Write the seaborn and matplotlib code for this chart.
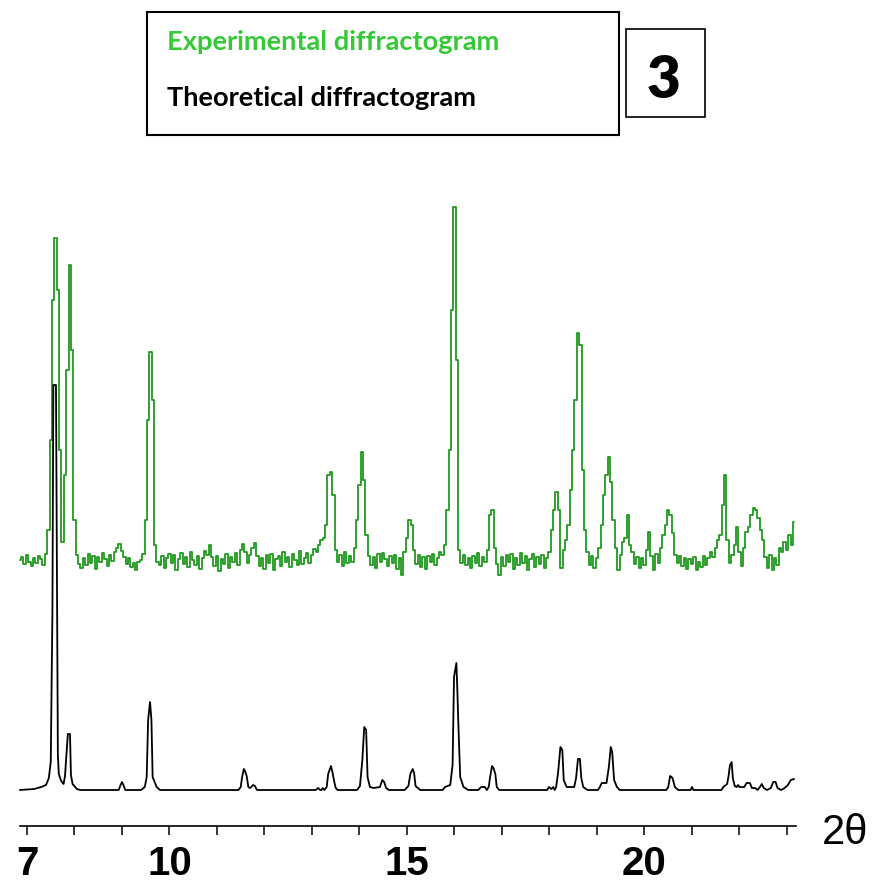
import numpy as np
import pandas as pd
import matplotlib
matplotlib.use("Agg")
import matplotlib.pyplot as plt
import seaborn as sns
from matplotlib.patches import Rectangle

# Experimental step scan: first angle, step (degrees 2-theta) and counts above background
exp_start = 6.85
exp_step = 0.05
exp_counts = [
    0, 3, -4, 5, -2, -6, 2, -3, 4, 1,                 # 6.85 - 7.30
    -5, 6, 30, 120, 260, 322, 270, 110, 18, 85,       # 7.35 - 7.80
    190, 295, 210, 40, 5, -4, -8, 2, -5, 6,           # 7.85 - 8.30
    -3, 4, -9, 3, -2, 7, 1, -6, 5, -1,                # 8.35 - 8.80
    8, 12, 16, 9, 3, -4, 2, -7, -3, -10,              # 8.85 - 9.30
    -2, 0, 6, 40, 140, 208, 160, 15, -2, -5,          # 9.35 - 9.80
    4, -8, 2, 6, -3, 5, -10, 1, 7, -4,                # 9.85 - 10.30
    3, -7, 8, 0, -5, 4, -9, 2, 9, 5,                  # 10.35 - 10.80
    15, 3, -6, 4, -11, 1, -4, 6, -8, 3,               # 10.85 - 11.30
    -2, 7, -5, 10, 16, 8, -3, 5, 12, 17,              # 11.35 - 11.80
    4, -6, 2, -9, 5, -3, 6, -10, 1, 4,                # 11.85 - 12.30
    -6, 8, -2, 3, -7, 6, 0, -5, 9, -4,                # 12.35 - 12.80
    2, 7, -3, 5, 11, 8, 15, 20, 22, 35,               # 12.85 - 13.30
    85, 88, 65, 10, -2, 5, -6, 8, -3, 4,              # 13.35 - 13.80
    -2, 12, 40, 75, 108, 80, 25, 4, -5, 3,            # 13.85 - 14.30
    -8, 6, -2, 7, 1, -6, 4, -3, 5, -9,                # 14.35 - 14.80
    2, -15, 8, 22, 40, 35, 10, -4, 5, -7,             # 14.85 - 15.30
    3, -9, 4, -2, 6, -5, 2, 8, 5, 15,                 # 15.35 - 15.80
    50, 110, 250, 353, 200, 10, -3, 5, -5, 2,         # 15.85 - 16.30
    -8, 4, -3, 7, -6, 3, -2, 10, 45, 50,              # 16.35 - 16.80
    12, -4, -15, 3, -6, 5, -2, 6, -9, 2,              # 16.85 - 17.30
    -5, 7, -3, 4, -10, 1, 6, -7, 3, -4,               # 17.35 - 17.80
    5, -8, 2, 8, 30, 50, 68, 50, -8, 10,              # 17.85 - 18.30
    20, 35, 70, 110, 160, 227, 215, 90, 30, 8,        # 18.35 - 18.80
    -5, 4, -8, 2, 12, 35, 65, 85, 103, 78,            # 18.85 - 19.30
    40, 12, -10, 5, 18, 22, 45, 15, 8, -4,            # 19.35 - 19.80
    3, -8, 2, -5, 10, 28, 4, -10, 6, -3,              # 19.85 - 20.30
    12, 25, 35, 50, 45, 27, 5, -3, 4, -6,             # 20.35 - 20.80
    2, -9, 1, -4, 3, -10, -2, -7, 4, -5,              # 20.85 - 21.30
    2, 8, 3, 12, 20, 25, 55, 85, 20, -3,              # 21.35 - 21.80
    5, 15, 33, 8, -6, 12, 28, 33, 45, 52,             # 21.85 - 22.30
    50, 42, 30, 20, 3, -8, 5, -10, 2, -5,             # 22.35 - 22.80
    12, 8, 18, 10, 25, 15, 38,                        # 22.85 - 23.15
]

# Calculated pattern: profile vertices (2-theta, intensity)
theo_2theta = [
    6.85, 7.15, 7.30, 7.40, 7.46, 7.50, 7.515, 7.535, 7.555, 7.61,
    7.635, 7.65, 7.67, 7.72, 7.77, 7.80, 7.83, 7.86, 7.905, 7.925,
    7.96, 8.05, 8.12,
    8.93, 8.97, 9.00, 9.03, 9.07,
    9.40, 9.48, 9.52, 9.55, 9.59, 9.62, 9.645, 9.73, 9.80,
    11.45, 11.50, 11.525, 11.565, 11.59, 11.625, 11.66, 11.70, 11.76, 11.80, 11.84,
    13.08, 13.13, 13.17, 13.20, 13.225, 13.26, 13.31, 13.34, 13.40, 13.43,
    13.47, 13.50, 13.54,
    13.95, 14.01, 14.06, 14.10, 14.14, 14.17, 14.22, 14.30, 14.43, 14.48,
    14.52, 14.56, 14.62,
    14.95, 15.03, 15.07, 15.12, 15.15, 15.18, 15.23, 15.28,
    15.75, 15.80, 15.91, 15.96, 15.99, 16.04, 16.06, 16.08, 16.12, 16.19,
    16.29,
    16.50, 16.56, 16.64, 16.68, 16.72, 16.75, 16.79, 16.82, 16.86, 16.89,
    16.94,
    17.95, 17.99, 18.04, 18.08, 18.11, 18.14, 18.18, 18.23, 18.27, 18.30,
    18.36, 18.42, 18.52, 18.56, 18.60, 18.64, 18.67, 18.71, 18.80,
    19.02, 19.06, 19.10, 19.20, 19.25, 19.29, 19.32, 19.36, 19.42, 19.48,
    20.46, 20.50, 20.54, 20.59, 20.64, 20.71,
    20.97, 21.00, 21.03,
    21.62, 21.66, 21.74, 21.77, 21.80, 21.835, 21.86, 21.90, 21.94, 21.97,
    22.00, 22.10, 22.15, 22.22, 22.26, 22.33, 22.38, 22.43, 22.47, 22.51,
    22.58, 22.66, 22.71, 22.76, 22.80, 22.88, 22.95, 23.02, 23.08, 23.15,
]
theo_counts = [
    0, 1, 3, 5, 12, 28, 96, 177, 405, 405,
    177, 35, 16, 9, 6, 14, 35, 56, 56, 15,
    6, 1, 0,
    0, 5, 8, 5, 0,
    0, 3, 13, 70, 88, 70, 13, 3, 0,
    0, 3, 12, 21, 19, 14, 3, 2, 5, 4, 0,
    0, 2, 0, 0, 2, 0, 3, 16, 24, 18,
    8, 2, 0,
    0, 4, 30, 63, 60, 13, 3, 2, 3, 10,
    8, 2, 0,
    0, 4, 16, 21, 17, 4, 2, 0,
    0, 3, 5, 25, 113, 127, 100, 68, 13, 3,
    0,
    0, 3, 3, 0, 3, 13, 24, 22, 16, 3,
    0,
    0, 3, 1, 3, 0, 3, 17, 43, 40, 10,
    3, 3, 3, 12, 31, 31, 12, 3, 0,
    0, 3, 7, 7, 23, 43, 38, 10, 3, 0,
    0, 3, 14, 12, 3, 0,
    0, 3, 0,
    0, 3, 6, 14, 25, 28, 12, 4, 3, 5,
    3, 3, 7, 7, 2, 2, 0, 3, 6, 2,
    0, 2, 8, 8, 2, 0, 2, 5, 10, 11,
]

tick_values = list(range(7, 24))
labelled_ticks = {7: "7", 10: "10", 15: "15", 20: "20"}

exp_offset = 230  # vertical shift of the measured pattern above the calculated one

exp_df = pd.DataFrame({
    "two_theta": exp_start + exp_step * np.arange(len(exp_counts)),
    "intensity": np.array(exp_counts, dtype=float) + exp_offset,
})
theo_df = pd.DataFrame({"two_theta": theo_2theta, "intensity": theo_counts})

sns.set_theme(style="white")
plt.rcParams["font.family"] = ["Liberation Sans", "DejaVu Sans"]
plt.rcParams["text.color"] = "black"
plt.rcParams["xtick.color"] = "black"
plt.rcParams["xtick.labelcolor"] = "black"

fig = plt.figure(figsize=(8.75, 8.83), dpi=100)
ax = fig.add_axes([0, 0, 1, 1])
ax.set_facecolor("white")

sns.lineplot(data=exp_df, x="two_theta", y="intensity", ax=ax, color="#1f9a1f",
             lw=1.3, estimator=None, sort=False, drawstyle="steps-mid", zorder=2)
sns.lineplot(data=theo_df, x="two_theta", y="intensity", ax=ax, color="black",
             lw=1.3, estimator=None, sort=False, zorder=3)

ax.set_xlim(6.4316, 24.853)
ax.set_ylim(-93, 790)
ax.set_xlabel("")
ax.set_ylabel("")
ax.set_yticks([])

for side in ("top", "left", "right"):
    ax.spines[side].set_visible(False)
ax.spines["bottom"].set_position(("data", -36))
ax.spines["bottom"].set_bounds(6.85, 23.2)
ax.spines["bottom"].set_linewidth(1.2)
ax.spines["bottom"].set_color("black")

ax.set_xticks(tick_values)
ax.set_xticklabels([labelled_ticks.get(t, "") for t in tick_values])
ax.tick_params(axis="x", direction="out", length=6.5, width=1.1, color="black",
               labelcolor="black", pad=7, labelsize=29, bottom=True)
for lab in ax.get_xticklabels():
    lab.set_fontfamily(["Liberation Sans Narrow", "Liberation Sans", "DejaVu Sans"])
    lab.set_fontweight("bold")
    lab.set_color("black")

fig.text(845 / 875, 1 - 833 / 883, "2θ", fontsize=30, ha="center", va="center",
         color="black",
         family=["Liberation Sans Narrow", "Liberation Sans", "DejaVu Sans"])

# legend box
fig.patches.append(Rectangle((147 / 875, 1 - 135 / 883), (619 - 147) / 875, (135 - 12) / 883,
                             transform=fig.transFigure, fill=False, ec="black", lw=1.5))
fig.text(167 / 875, 1 - 42 / 883, "Experimental diffractogram", color="#36c936",
         fontsize=19.6, fontweight="bold", ha="left", va="center",
         family=["Lato", "DejaVu Sans"])
fig.text(167 / 875, 1 - 98 / 883, "Theoretical diffractogram", color="black",
         fontsize=19.6, fontweight="bold", ha="left", va="center",
         family=["Lato", "DejaVu Sans"])

# panel number
fig.patches.append(Rectangle((626 / 875, 1 - 117 / 883), (705 - 626) / 875, (117 - 29) / 883,
                             transform=fig.transFigure, fill=False, ec="black", lw=1.2))
fig.text(664 / 875, 1 - 80 / 883, "3", fontsize=42, fontweight="heavy", ha="center",
         va="center", color="black", family=["Lato", "DejaVu Sans"])

fig.savefig("out.png", dpi=100, facecolor="white")
